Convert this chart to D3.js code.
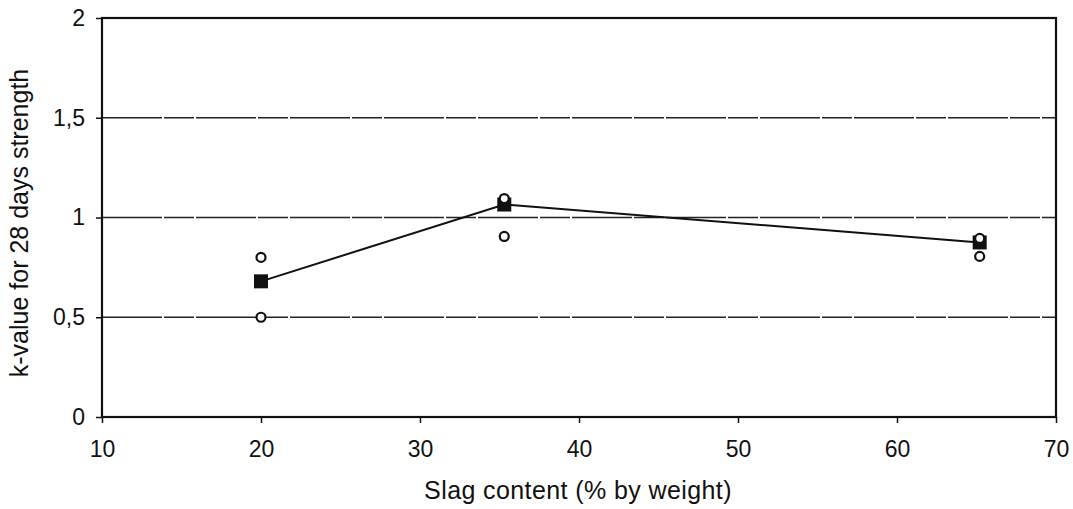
<!DOCTYPE html>
<html><head><meta charset="utf-8">
<script src="https://cdn.jsdelivr.net/npm/d3@7"></script>
<style>body{margin:0;background:#fff}svg{display:block}text{font-family:"Liberation Sans",Arial,sans-serif;fill:#111}</style>
</head><body>
<svg id="c" width="1073" height="509"></svg>
<script>
const slagMean = [20, 35.3, 65.2];
const kMean = [0.68, 1.065, 0.875];
const slagInd = [20, 20, 35.3, 35.3, 65.2, 65.2];
const kInd = [0.80, 0.50, 1.095, 0.905, 0.895, 0.805];
const xTicks = [10, 20, 30, 40, 50, 60, 70];
const yTicks = [0, 0.5, 1, 1.5, 2];
const yTickLabels = ["0", "0,5", "1", "1,5", "2"];

const svg = d3.select("#c");
const L = 102, R = 1056, T = 18, B = 417;
const x = d3.scaleLinear().domain([10, 70]).range([L, R]);
const y = d3.scaleLinear().domain([0, 2]).range([B, T]);

// gridlines
svg.append("g").selectAll("line").data([0.5, 1, 1.5]).join("line")
  .attr("x1", L).attr("x2", R).attr("y1", d => y(d)).attr("y2", d => y(d))
  .attr("stroke", "#222").attr("stroke-width", 1.3).attr("stroke-dasharray", "60,2,30,2");

// frame
svg.append("rect").attr("x", L).attr("y", T).attr("width", R - L).attr("height", B - T)
  .attr("fill", "none").attr("stroke", "#111").attr("stroke-width", 2.2);

// axes
const xAxis = d3.axisBottom(x).tickValues(xTicks).tickSize(6).tickPadding(20).tickFormat(d3.format("d"));
const gx = svg.append("g").attr("transform", `translate(0,${B})`).call(xAxis);
gx.select(".domain").remove();
gx.selectAll("line").attr("stroke", "#111").attr("stroke-width", 1.5);
gx.selectAll("text").attr("font-size", 23).attr("dy", "0.62em");

const yAxis = d3.axisLeft(y).tickValues(yTicks).tickSize(6).tickPadding(11).tickFormat((d, i) => yTickLabels[i]);
const gy = svg.append("g").attr("transform", `translate(${L},0)`).call(yAxis);
gy.select(".domain").remove();
gy.selectAll("line").attr("stroke", "#111").attr("stroke-width", 1.5);
gy.selectAll("text").attr("font-size", 23);

// titles
svg.append("text").attr("x", 578).attr("y", 499).attr("text-anchor", "middle")
  .attr("font-size", 25).attr("letter-spacing", 0.4).text("Slag content (% by weight)");
svg.append("text").attr("transform", `translate(28,${223}) rotate(-90)`).attr("text-anchor", "middle")
  .attr("font-size", 25).text("k-value for 28 days strength");

// line
const pts = slagMean.map((s, i) => [s, kMean[i]]);
svg.append("path").datum(pts)
  .attr("d", d3.line().x(d => x(d[0])).y(d => y(d[1])))
  .attr("fill", "none").attr("stroke", "#111").attr("stroke-width", 2);

// squares
svg.append("g").selectAll("rect").data(pts).join("rect")
  .attr("x", d => x(d[0]) - 7).attr("y", d => y(d[1]) - 7).attr("width", 14).attr("height", 14)
  .attr("fill", "#111");

// open circles
svg.append("g").selectAll("circle").data(slagInd.map((s, i) => [s, kInd[i]])).join("circle")
  .attr("cx", d => x(d[0])).attr("cy", d => y(d[1])).attr("r", 4.5)
  .attr("fill", "#fff").attr("stroke", "#111").attr("stroke-width", 2.2);
</script>
</body></html>
